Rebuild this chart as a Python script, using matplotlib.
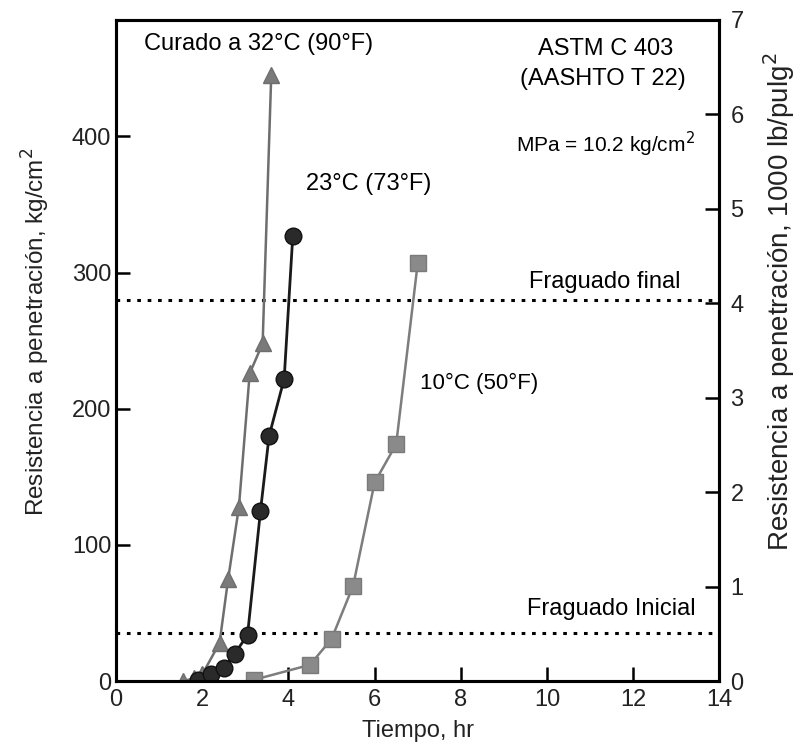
import matplotlib
matplotlib.use("Agg")
import matplotlib.pyplot as plt

plt.rcParams['font.family'] = ['Liberation Sans', 'DejaVu Sans']

# Data (time in hr, resistance in kg/cm2)
t32 = [1.55, 1.8, 2.0, 2.4, 2.6, 2.85, 3.1, 3.4, 3.6]
r32 = [0, 2, 5, 28, 75, 128, 226, 248, 445]
t23 = [1.9, 2.2, 2.5, 2.75, 3.05, 3.35, 3.55, 3.9, 4.1]
r23 = [1, 5, 10, 20, 34, 125, 180, 222, 327]
t10 = [3.2, 4.5, 5.0, 5.5, 6.0, 6.5, 7.0]
r10 = [1, 12, 31, 70, 146, 174, 307]

initial_set = 35
final_set = 280
xticks = [0, 2, 4, 6, 8, 10, 12, 14]
yticks_left = [0, 100, 200, 300, 400]
yticks_right = [0, 1, 2, 3, 4, 5, 6, 7]
conv = 69.4  # kg/cm2 per 1000 psi

fig = plt.figure(figsize=(8.01, 7.56), dpi=100)
ax = fig.add_axes([0.145, 0.099, 0.753, 0.875])

ax.plot(t32, r32, color='#6e6e6e', lw=1.8, marker='^', ms=11, mfc='#7a7a7a', mec='#6e6e6e', zorder=3)
ax.plot(t23, r23, color='#1a1a1a', lw=2.0, marker='o', ms=12, mfc='#2a2a2a', mec='#111111', zorder=4)
ax.plot(t10, r10, color='#7d7d7d', lw=1.8, marker='s', ms=12, mfc='#8a8a8a', mec='#7a7a7a', zorder=3)

ax.axhline(final_set, color='black', ls=(0, (1.2, 2.2)), lw=2.2, zorder=2)
ax.axhline(initial_set, color='black', ls=(0, (1.2, 2.2)), lw=2.2, zorder=2)

ax.set_xlim(0, 14)
ax.set_ylim(0, 7 * conv)
ax.set_xticks(xticks)
ax.set_yticks(yticks_left)
ax.tick_params(direction='in', length=10, width=1.8, labelsize=17, top=False, labelcolor='#222222')
ax.tick_params(axis='x', pad=6)
for s in ax.spines.values():
    s.set_linewidth(2.2)

ax2 = ax.twinx()
ax2.set_ylim(0, 7)
ax2.set_yticks(yticks_right)
ax2.tick_params(direction='in', length=10, width=1.8, labelsize=17, pad=8, labelcolor='#222222')
for s in ax2.spines.values():
    s.set_linewidth(2.2)

ax.set_xlabel('Tiempo, hr', fontsize=17, labelpad=6, color='#222222')
fig.text(36 / 801, 1 - 332 / 756, 'Resistencia a penetración, kg/cm$^2$', fontsize=17.5,
         rotation=90, ha='center', va='center', color='#222222')
fig.text(779 / 801, 1 - 302 / 756, 'Resistencia a penetración, 1000 lb/pulg$^2$', fontsize=20,
         rotation=90, ha='center', va='center', color='#222222')

fs = 17
ax.text(0.65, 468, 'Curado a 32°C (90°F)', fontsize=fs, va='center', ha='left')
ax.text(4.4, 365, '23°C (73°F)', fontsize=fs, va='center', ha='left')
ax.text(7.05, 219, '10°C (50°F)', fontsize=16, va='center', ha='left')
ax.text(11.35, 464, 'ASTM C 403', fontsize=fs, va='center', ha='center')
ax.text(11.3, 442, '(AASHTO T 22)', fontsize=fs, va='center', ha='center')
ax.text(11.35, 394, 'MPa = 10.2 kg/cm$^2$', fontsize=15, va='center', ha='center')
ax.text(11.35, 293, 'Fraguado final', fontsize=fs, va='center', ha='center')
ax.text(11.5, 53, 'Fraguado Inicial', fontsize=fs, va='center', ha='center')

fig.savefig('out.png', dpi=100)
